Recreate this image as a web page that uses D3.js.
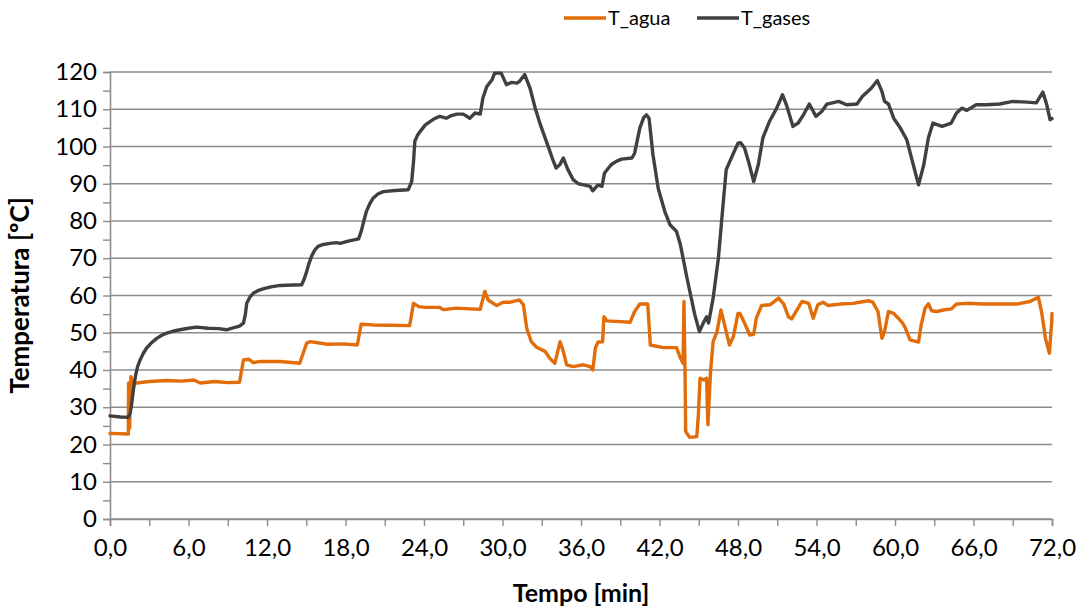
<!DOCTYPE html>
<html>
<head>
<meta charset="utf-8">
<script src="https://cdn.jsdelivr.net/npm/d3@7"></script>
<style>
  html, body { margin: 0; padding: 0; background: #ffffff; }
  svg { display: block; font-family: Lato, "Open Sans", sans-serif; }
</style>
</head>
<body>
<svg id="chart" width="1083" height="609"></svg>
<script>
// Time axis ticks (min) and temperature axis ticks (ºC)
const xTicks = d3.range(0, 72.001, 3);
const yTicks = d3.range(0, 120.001, 10);
const yMinorTicks = d3.range(0, 120.001, 5);

// T_agua: water temperature
const aguaTime = [0, 1.4, 1.42, 1.5, 1.6, 1.7, 2.04, 3.0, 4.3, 5.5, 6.4, 6.9, 8.0, 9.0, 9.9, 10.2, 10.6, 10.95,
  11.5, 13.0, 14.5, 15.03, 15.3, 16.6, 17.8, 18.9, 19.2, 20.1, 21.5, 22.9, 23.2, 23.6, 24.1, 25.2, 25.5, 26.5,
  27.5, 28.3, 28.65, 28.9, 29.56, 30.06, 30.6, 31.3, 31.6, 31.85, 32.2, 32.6, 33.25, 33.6, 34.0, 34.4, 34.65,
  34.9, 35.4, 36.2, 36.7, 36.9, 37.1, 37.3, 37.65, 37.75, 37.97, 39.0, 39.75, 40.1, 40.5, 41.1, 41.3, 42.3,
  43.3, 43.6, 43.8, 43.87, 43.95, 44.0, 44.3, 44.85, 44.97, 45.1, 45.4, 45.6, 45.7, 45.9, 46.1, 46.4, 46.7,
  47.0, 47.35, 47.65, 48.0, 48.15, 48.5, 48.9, 49.2, 49.4, 49.8, 50.45, 51.1, 51.5, 51.85, 52.1, 52.5, 52.9,
  53.4, 53.75, 54.1, 54.5, 54.9, 55.8, 56.8, 57.96, 58.3, 58.7, 59.0, 59.2, 59.5, 59.9, 60.25, 60.6, 60.8,
  61.15, 61.8, 62.0, 62.3, 62.55, 62.8, 63.2, 63.7, 64.3, 64.7, 65.5, 66.75, 68.0, 69.3, 70.3, 70.96, 71.2,
  71.5, 71.8, 71.98, 72.0];
const aguaTemp = [23.0, 22.8, 36.5, 24.4, 38.2, 36.2, 36.5, 36.9, 37.2, 37.0, 37.3, 36.5, 36.9, 36.6, 36.7, 42.7, 42.9, 42.0,
  42.3, 42.3, 41.8, 47.2, 47.6, 46.9, 47.0, 46.7, 52.3, 52.1, 52.0, 51.9, 57.9, 57.0, 56.8, 56.8, 56.2, 56.6,
  56.4, 56.3, 61.1, 58.8, 57.3, 58.2, 58.2, 58.8, 57.5, 51.2, 47.6, 46.1, 45.0, 43.2, 41.8, 47.6, 45.0,
  41.4, 40.9, 41.4, 40.9, 40.0, 45.9, 47.5, 47.6, 54.3, 53.2, 53.0, 52.8, 55.7, 57.7, 57.7, 46.7, 46.0,
  46.0, 43.2, 41.8, 58.4, 40.0, 23.5, 21.9, 22.1, 27.9, 37.8, 37.3, 37.8, 25.3, 39.6, 47.6, 50.3, 56.1,
  51.7, 46.7, 49.0, 55.2, 55.2, 52.6, 49.4, 49.6, 53.9, 57.3, 57.5, 59.3, 57.7, 54.3, 53.7, 56.1, 58.4,
  57.9, 53.9, 57.5, 58.2, 57.3, 57.7, 57.9, 58.6, 58.2, 55.7, 48.5, 50.3, 55.7, 55.2, 53.9, 52.5, 51.2,
  48.1, 47.5, 52.1, 56.6, 57.8, 55.9, 55.7, 56.1, 56.4, 57.7, 57.9, 57.7, 57.7, 57.7, 58.4, 59.5, 55.7,
  48.5, 44.5, 53.0, 55.2];

// T_gases: flue gas temperature
const gasesTime = [0, 0.8, 1.4, 1.55, 1.66, 1.8, 1.95, 2.1, 2.3, 2.55, 2.8, 3.2, 3.57, 4.0, 4.33, 4.8, 5.35, 6.0,
  6.6, 7.5, 8.3, 8.9, 9.4, 9.9, 10.2, 10.35, 10.45, 10.7, 10.95, 11.3, 11.7, 12.3, 13.0, 14.0, 14.65, 14.85,
  15.03, 15.2, 15.4, 15.65, 15.9, 16.3, 16.8, 17.3, 17.6, 18.2, 19.0, 19.2, 19.4, 19.6, 19.85, 20.1, 20.5,
  20.9, 21.8, 22.8, 23.06, 23.2, 23.3, 23.5, 23.7, 24.1, 24.46, 24.8, 25.2, 25.7, 26.1, 26.5, 27.0, 27.5,
  27.9, 28.3, 28.5, 28.8, 29.2, 29.4, 29.9, 30.3, 30.7, 31.1, 31.3, 31.7, 32.1, 32.5, 32.9, 33.4, 33.8,
  34.1, 34.4, 34.65, 35.0, 35.4, 35.8, 36.2, 36.7, 36.9, 37.3, 37.6, 37.8, 38.3, 38.7, 39.1, 39.9, 40.1,
  40.5, 40.8, 41.0, 41.2, 41.5, 41.9, 42.4, 42.8, 43.3, 43.6, 44.1, 44.7, 45.05, 45.4, 45.6, 45.75, 46.1,
  46.5, 46.9, 47.1, 47.6, 48.0, 48.2, 48.5, 48.8, 49.2, 49.55, 49.9, 50.4, 50.96, 51.4, 51.7, 52.2, 52.6,
  53.0, 53.45, 53.96, 54.4, 54.8, 55.7, 56.3, 57.1, 57.5, 58.2, 58.65, 59.0, 59.2, 59.5, 59.9, 60.4, 60.9,
  61.3, 61.8, 62.2, 62.55, 62.9, 63.6, 64.3, 64.7, 65.1, 65.5, 66.2, 67.0, 68.0, 69.0, 70.1, 70.8, 71.3,
  71.6, 71.85, 72.0];
const gasesTemp = [27.7, 27.4, 27.3, 28.5, 31.0, 35.0, 38.5, 40.8, 42.7, 44.5, 45.9, 47.4, 48.5, 49.4, 49.9, 50.4, 50.8, 51.2,
  51.5, 51.2, 51.1, 50.8, 51.3, 51.8, 52.6, 55.0, 57.9, 59.6, 60.6, 61.3, 61.8, 62.3, 62.7, 62.8, 62.9, 64.5,
  66.4, 68.5, 70.5, 72.2, 73.2, 73.7, 74.0, 74.2, 74.0, 74.6, 75.2, 77.2, 80.0, 82.6, 84.6, 86.1, 87.3,
  87.9, 88.2, 88.4, 90.6, 96.0, 101.4, 103.0, 104.0, 105.8, 106.7, 107.5, 108.1, 107.6, 108.3, 108.7, 108.7, 107.6,
  109.0, 108.7, 113.0, 116.1, 117.9, 119.7, 119.7, 116.6, 117.2, 117.0, 117.5, 119.3, 115.7, 110.3, 105.8, 100.9, 96.9,
  94.2, 95.2, 96.9, 93.8, 91.1, 90.0, 89.7, 89.3, 88.1, 89.7, 89.3, 92.9, 95.1, 96.0, 96.6, 96.9, 98.2,
  105.0, 107.8, 108.5, 107.6, 97.8, 88.8, 82.6, 79.0, 77.2, 73.6, 64.7, 54.8, 50.3, 53.0, 54.3, 52.6, 59.3,
  70.0, 86.1, 93.8, 97.8, 100.9, 101.0, 99.6, 96.0, 90.6, 95.1, 102.3, 106.7, 110.3, 113.9, 111.2, 105.4, 106.3,
  108.5, 111.4, 108.1, 109.4, 111.4, 112.1, 111.2, 111.4, 113.4, 115.7, 117.7, 114.8, 112.1, 111.4, 107.6, 105.0, 101.8,
  96.4, 89.7, 95.1, 102.3, 106.3, 105.4, 106.3, 109.0, 110.3, 109.7, 111.2, 111.2, 111.4, 112.1, 111.9, 111.7, 114.6,
  111.2, 107.2, 107.5];

const seriesNames = ["T_agua", "T_gases"];
const seriesColors = ["#E36C0A", "#404040"];

const svg = d3.select("#chart");
const margin = { left: 110, top: 72, right: 31, bottom: 90 };
const W = 1083, H = 609;
const innerW = W - margin.left - margin.right;
const innerH = H - margin.top - margin.bottom;
const gridColor = "#8C8C8C";
const tickFont = 24;

const x = d3.scaleLinear().domain([0, 72]).range([margin.left, margin.left + innerW]);
const y = d3.scaleLinear().domain([0, 120]).range([margin.top + innerH, margin.top]);

// Horizontal gridlines
svg.append("g")
  .selectAll("line")
  .data(yTicks)
  .join("line")
  .attr("x1", margin.left).attr("x2", margin.left + innerW)
  .attr("y1", d => y(d)).attr("y2", d => y(d))
  .attr("stroke", gridColor).attr("stroke-width", 1.6);

// Y axis with minor ticks every 5
const yAxis = svg.append("g")
  .attr("transform", `translate(${margin.left},0)`)
  .call(d3.axisLeft(y).tickValues(yMinorTicks).tickSize(7).tickPadding(6)
    .tickFormat(d => (d % 10 === 0 ? d3.format("d")(d) : "")));
yAxis.select(".domain").attr("stroke", gridColor).attr("stroke-width", 1.6);
yAxis.selectAll(".tick line").attr("stroke", gridColor).attr("stroke-width", 1.4);
yAxis.selectAll(".tick text").attr("fill", "#000").attr("font-size", tickFont).attr("font-family", "Lato, sans-serif");

// X axis with ticks every 3 min, labels every 6
const xAxis = svg.append("g")
  .attr("transform", `translate(0,${margin.top + innerH})`)
  .call(d3.axisBottom(x).tickValues(xTicks).tickSize(7).tickPadding(13)
    .tickFormat(d => (d % 6 === 0 ? d.toFixed(1).replace(".", ",") : "")));
xAxis.select(".domain").attr("stroke", gridColor).attr("stroke-width", 1.6);
xAxis.selectAll(".tick line").attr("stroke", gridColor).attr("stroke-width", 1.4);
xAxis.selectAll(".tick text").attr("fill", "#000").attr("font-size", tickFont).attr("font-family", "Lato, sans-serif");

// Series lines
const line = d3.line().x(d => x(d[0])).y(d => y(d[1])).curve(d3.curveLinear);
const series = [
  d3.zip(aguaTime, aguaTemp),
  d3.zip(gasesTime, gasesTemp)
];
svg.append("g")
  .selectAll("path")
  .data(series)
  .join("path")
  .attr("d", line)
  .attr("fill", "none")
  .attr("stroke", (d, i) => seriesColors[i])
  .attr("stroke-width", 3.4)
  .attr("stroke-linejoin", "round")
  .attr("stroke-linecap", "round");

// Legend
const legendItems = [
  { name: seriesNames[0], color: seriesColors[0], x0: 564 },
  { name: seriesNames[1], color: seriesColors[1], x0: 697 }
];
const legend = svg.append("g");
legendItems.forEach(it => {
  legend.append("line")
    .attr("x1", it.x0).attr("x2", it.x0 + 42)
    .attr("y1", 18).attr("y2", 18)
    .attr("stroke", it.color).attr("stroke-width", 3.4);
  legend.append("text")
    .attr("x", it.x0 + 44).attr("y", 25)
    .attr("font-size", 20)
    .attr("fill", "#000")
    .text(it.name);
});

// Axis titles
svg.append("text")
  .attr("x", margin.left + innerW / 2).attr("y", 602)
  .attr("text-anchor", "middle")
  .attr("font-size", 25).attr("font-weight", "bold")
  .text("Tempo [min]");

svg.append("text")
  .attr("transform", `translate(29,${margin.top + innerH / 2}) rotate(-90)`)
  .attr("text-anchor", "middle")
  .attr("font-size", 26).attr("font-weight", "bold")
  .text("Temperatura [ºC]");
</script>
</body>
</html>
